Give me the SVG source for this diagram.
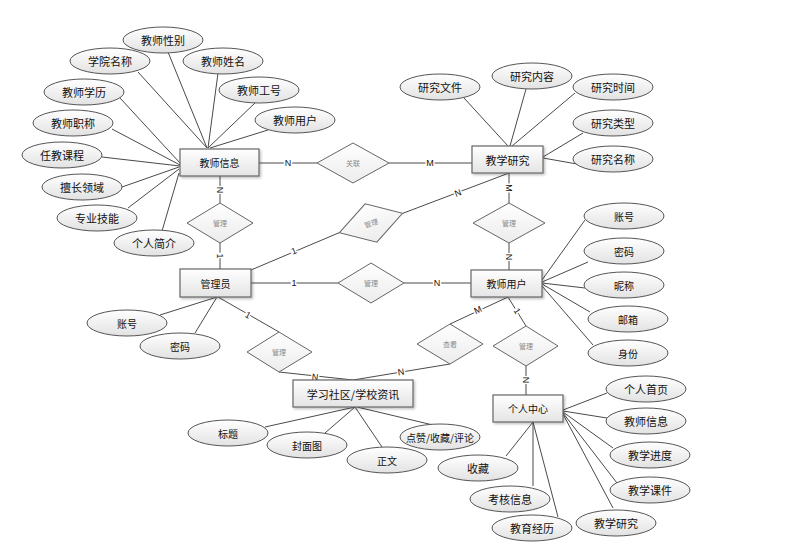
<svg xmlns="http://www.w3.org/2000/svg" width="791" height="560" viewBox="0 0 791 560">
<defs>
<linearGradient id="gE" x1="0" y1="0" x2="0" y2="1"><stop offset="0" stop-color="#ffffff"/><stop offset="1" stop-color="#e2e2e2"/></linearGradient>
<linearGradient id="gR" x1="0" y1="0" x2="0" y2="1"><stop offset="0" stop-color="#ffffff"/><stop offset="1" stop-color="#e4e4e4"/></linearGradient>
<linearGradient id="gD" x1="0" y1="0" x2="0" y2="1"><stop offset="0" stop-color="#ffffff"/><stop offset="1" stop-color="#ececec"/></linearGradient>
<filter id="sh" x="-10%" y="-10%" width="130%" height="140%"><feDropShadow dx="1.5" dy="1.5" stdDeviation="1" flood-color="#000" flood-opacity="0.25"/></filter>
</defs>
<style>
.ln{stroke:#4a4a4a;stroke-width:1;fill:none}
.el{fill:url(#gE);stroke:#555;stroke-width:1}
.rc{fill:url(#gR);stroke:#666;stroke-width:1.2;filter:url(#sh)}
.dm{fill:url(#gD);stroke:#666;stroke-width:1}
.t{font-family:"Noto Sans CJK SC","Liberation Sans",sans-serif;font-size:11px;fill:#111;text-anchor:middle;dominant-baseline:central}
.tr{font-family:"Noto Sans CJK SC","Liberation Sans",sans-serif;font-size:10px;fill:#111;text-anchor:middle;dominant-baseline:central}
.td{font-family:"Noto Sans CJK SC","Liberation Sans",sans-serif;font-size:7px;fill:#8a8a8a;text-anchor:middle;dominant-baseline:central}
.lb{font-family:"Liberation Sans",sans-serif;font-size:9px;fill:#111;text-anchor:middle;dominant-baseline:central;stroke:#fff;stroke-width:3px;paint-order:stroke}
</style>
<rect width="791" height="560" fill="#fff"/>
<g id="connectors">
<!-- 教师信息 attributes -->
<path class="ln" d="M168,52L207,148M138,72L207,148M218,73L208,148M255,103L208,148M268,130L210,148M120,98L180,163M112,129L180,165M102,157L180,166M122,187L179,167M128,208L179,169M162,231L179,173"/>
<!-- 教学研究 attributes -->
<path class="ln" d="M464,98L508,146M526,89L510,146M575,93L512,146M583,133L543,157M577,164L543,158"/>
<!-- 教师用户 attributes -->
<path class="ln" d="M585,220L542,280M588,262L542,282M585,288L542,283M590,312L542,284M593,345L542,286"/>
<!-- 管理员 attributes -->
<path class="ln" d="M160,315L217,297M195,333L217,297"/>
<!-- 学习社区 attributes -->
<path class="ln" d="M265,427L355,407M325,433L355,407M382,447L355,407M433,425L357,407"/>
<!-- 个人中心 attributes -->
<path class="ln" d="M607,393L563,410M607,418L563,411M613,448L563,412M617,483L563,413M613,508L563,414M506,456L533,422M533,486L533,422M558,517L533,422"/>
<!-- relationships -->
<path class="ln" d="M259,163L317,163M389,163L472,163"/>
<path class="ln" d="M220,176L220,203M220,243L220,269"/>
<path class="ln" d="M251,270L339.4,232.6M402.6,213.4L509,173"/>
<path class="ln" d="M509,173L509,203M509,243L509,270"/>
<path class="ln" d="M251,283L338,283M404,283L471,283"/>
<path class="ln" d="M218,297L279,332M279,372L353,380"/>
<path class="ln" d="M450,364L353,380M450,324L508,297"/>
<path class="ln" d="M508,297L526,326M526,366L526,395"/>
<text class="lb" x="288" y="163">N</text>
<text class="lb" x="430" y="163">M</text>
<text class="lb" transform="translate(220,190) rotate(90)">N</text>
<text class="lb" transform="translate(220,256) rotate(90)">1</text>
<text class="lb" transform="translate(294,251) rotate(-23)">1</text>
<text class="lb" transform="translate(458,193) rotate(-21)">N</text>
<text class="lb" transform="translate(509,188) rotate(90)">M</text>
<text class="lb" transform="translate(509,257) rotate(90)">N</text>
<text class="lb" x="294" y="283">1</text>
<text class="lb" x="437" y="283">N</text>
<text class="lb" transform="translate(248,315) rotate(29)">1</text>
<text class="lb" transform="translate(315,377) rotate(6)">N</text>
<text class="lb" transform="translate(401,372) rotate(-9)">N</text>
<text class="lb" transform="translate(478,310) rotate(-25)">M</text>
<text class="lb" transform="translate(517,311) rotate(58)">1</text>
<text class="lb" transform="translate(526,380) rotate(90)">N</text>
</g>
<g id="rel-guanlian"><polygon class="dm" points="317,163 353,143 389,163 353,183"/><text class="td" x="353" y="163">关联</text></g>
<g id="rel-guanli-1"><polygon class="dm" points="187,223 220,203 253,223 220,243"/><text class="td" x="220" y="223">管理</text></g>
<g id="rel-guanli-2" transform="translate(371,223) rotate(-17)"><polygon class="dm" points="-33,0 0,-20 33,0 0,20"/><text class="td" x="0" y="0">管理</text></g>
<g id="rel-guanli-3"><polygon class="dm" points="473,223 509,203 545,223 509,243"/><text class="td" x="509" y="223">管理</text></g>
<g id="rel-guanli-4"><polygon class="dm" points="338,283 371,263 404,283 371,303"/><text class="td" x="371" y="283">管理</text></g>
<g id="rel-guanli-5"><polygon class="dm" points="247,352 279,332 312,352 279,372"/><text class="td" x="279" y="352">管理</text></g>
<g id="rel-chakan"><polygon class="dm" points="417,344 450,324 483,344 450,364"/><text class="td" x="450" y="344">查看</text></g>
<g id="rel-guanli-6"><polygon class="dm" points="493,346 526,326 558,346 526,366"/><text class="td" x="526" y="346">管理</text></g>
<g id="ent-jiaoshixinxi"><rect class="rc" x="180" y="149" width="79" height="27"/><text class="tr" x="219.5" y="162.5">教师信息</text></g>
<g id="ent-jiaoxueyanjiu"><rect class="rc" x="472" y="146" width="71" height="27"/><text class="t" x="507.5" y="159.5">教学研究</text></g>
<g id="ent-guanliyuan"><rect class="rc" x="180" y="269" width="71" height="28"/><text class="tr" x="215.5" y="283">管理员</text></g>
<g id="ent-jiaoshiyonghu"><rect class="rc" x="471" y="270" width="71" height="27"/><text class="tr" x="506.5" y="283.5">教师用户</text></g>
<g id="ent-shequ"><rect class="rc" x="293" y="380" width="120" height="27"/><text class="t" x="353" y="393.5">学习社区/学校资讯</text></g>
<g id="ent-gerenzhongxin"><rect class="rc" x="493" y="395" width="70" height="27"/><text class="tr" x="528" y="408.5">个人中心</text></g>
<g id="attr-jsxb"><ellipse class="el" cx="163" cy="40" rx="40" ry="13"/><text class="t" x="163" y="40">教师性别</text></g>
<g id="attr-xymc"><ellipse class="el" cx="110" cy="61" rx="40" ry="13"/><text class="t" x="110" y="61">学院名称</text></g>
<g id="attr-jsxm"><ellipse class="el" cx="223" cy="61" rx="40" ry="13"/><text class="t" x="223" y="61">教师姓名</text></g>
<g id="attr-jsgh"><ellipse class="el" cx="259" cy="90" rx="40" ry="13"/><text class="t" x="259" y="90">教师工号</text></g>
<g id="attr-jsyh"><ellipse class="el" cx="295" cy="120" rx="40" ry="13"/><text class="t" x="295" y="120">教师用户</text></g>
<g id="attr-jsxl"><ellipse class="el" cx="84" cy="92" rx="40" ry="13"/><text class="t" x="84" y="92">教师学历</text></g>
<g id="attr-jszc"><ellipse class="el" cx="73" cy="123" rx="40" ry="13"/><text class="t" x="73" y="123">教师职称</text></g>
<g id="attr-rjkc"><ellipse class="el" cx="62" cy="155" rx="40" ry="13"/><text class="t" x="62" y="155">任教课程</text></g>
<g id="attr-sclz"><ellipse class="el" cx="82" cy="187" rx="40" ry="13"/><text class="t" x="82" y="187">擅长领域</text></g>
<g id="attr-zyjn"><ellipse class="el" cx="97" cy="218" rx="40" ry="13"/><text class="t" x="97" y="218">专业技能</text></g>
<g id="attr-grjj"><ellipse class="el" cx="154" cy="243" rx="40" ry="13"/><text class="t" x="154" y="243">个人简介</text></g>
<g id="attr-yjwj"><ellipse class="el" cx="440" cy="87" rx="40" ry="13"/><text class="t" x="440" y="87">研究文件</text></g>
<g id="attr-yjnr"><ellipse class="el" cx="532" cy="76" rx="40" ry="13"/><text class="t" x="532" y="76">研究内容</text></g>
<g id="attr-yjsj"><ellipse class="el" cx="613" cy="87" rx="40" ry="13"/><text class="t" x="613" y="87">研究时间</text></g>
<g id="attr-yjlx"><ellipse class="el" cx="613" cy="123" rx="40" ry="13"/><text class="t" x="613" y="123">研究类型</text></g>
<g id="attr-yjmc"><ellipse class="el" cx="613" cy="159" rx="40" ry="13"/><text class="t" x="613" y="159">研究名称</text></g>
<g id="attr-zh1"><ellipse class="el" cx="624" cy="216" rx="40" ry="13"/><text class="tr" x="624" y="216">账号</text></g>
<g id="attr-mm1"><ellipse class="el" cx="624" cy="251" rx="40" ry="13"/><text class="tr" x="624" y="251">密码</text></g>
<g id="attr-nc"><ellipse class="el" cx="624" cy="285" rx="40" ry="13"/><text class="tr" x="624" y="285">昵称</text></g>
<g id="attr-yx"><ellipse class="el" cx="628" cy="319" rx="40" ry="13"/><text class="tr" x="628" y="319">邮箱</text></g>
<g id="attr-sf"><ellipse class="el" cx="628" cy="353" rx="40" ry="13"/><text class="tr" x="628" y="353">身份</text></g>
<g id="attr-zh2"><ellipse class="el" cx="127" cy="323" rx="40" ry="13"/><text class="tr" x="127" y="323">账号</text></g>
<g id="attr-mm2"><ellipse class="el" cx="180" cy="346" rx="40" ry="13"/><text class="tr" x="180" y="346">密码</text></g>
<g id="attr-bt"><ellipse class="el" cx="228" cy="433" rx="40" ry="13"/><text class="tr" x="228" y="433">标题</text></g>
<g id="attr-fmt"><ellipse class="el" cx="307" cy="445" rx="40" ry="13"/><text class="tr" x="307" y="445">封面图</text></g>
<g id="attr-zw"><ellipse class="el" cx="387" cy="460" rx="40" ry="13"/><text class="tr" x="387" y="460">正文</text></g>
<g id="attr-dz"><ellipse class="el" cx="440" cy="437" rx="40" ry="13"/><text class="tr" x="440" y="437">点赞/收藏/评论</text></g>
<g id="attr-grsy"><ellipse class="el" cx="646" cy="389" rx="40" ry="13"/><text class="t" x="646" y="389">个人首页</text></g>
<g id="attr-jsxx"><ellipse class="el" cx="646" cy="421" rx="40" ry="13"/><text class="t" x="646" y="421">教师信息</text></g>
<g id="attr-jxjd"><ellipse class="el" cx="650" cy="455" rx="40" ry="13"/><text class="t" x="650" y="455">教学进度</text></g>
<g id="attr-jxkj"><ellipse class="el" cx="650" cy="490" rx="40" ry="13"/><text class="t" x="650" y="490">教学课件</text></g>
<g id="attr-jxyj"><ellipse class="el" cx="616" cy="523" rx="40" ry="13"/><text class="t" x="616" y="523">教学研究</text></g>
<g id="attr-sc"><ellipse class="el" cx="478" cy="468" rx="40" ry="13"/><text class="t" x="478" y="468">收藏</text></g>
<g id="attr-khxx"><ellipse class="el" cx="510" cy="499" rx="40" ry="13"/><text class="t" x="510" y="499">考核信息</text></g>
<g id="attr-jyjl"><ellipse class="el" cx="532" cy="528" rx="40" ry="13"/><text class="t" x="532" y="528">教育经历</text></g>
</svg>
